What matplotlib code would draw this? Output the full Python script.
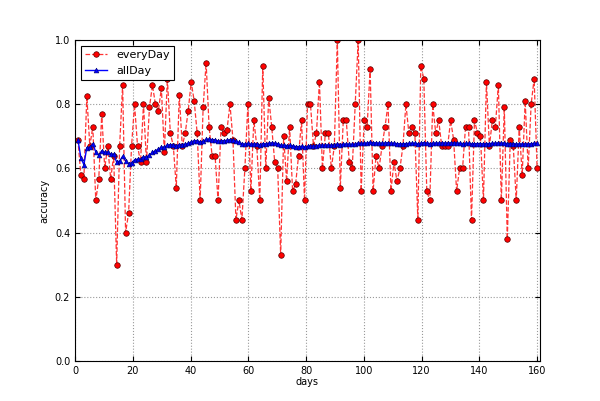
import numpy as np
import matplotlib
matplotlib.use("Agg")
import matplotlib.pyplot as plt

every_day = [0.69,0.578,0.567,0.825,0.67,0.73,0.5,0.567,0.77,0.6,0.67,0.567,0.64,0.3,0.67,0.86,0.4,0.46,
             0.67,0.8,0.67,0.62,0.8,0.62,0.79,0.86,0.8,0.78,0.85,0.65,0.88,0.71,0.67,0.54,0.83,0.67,0.71,
             0.78,0.87,0.81,0.71,0.5,0.79,0.93,0.73,0.64,0.64,
             0.5,0.73,0.71,0.72,0.8,0.69,0.44,0.5,0.44,0.6,0.8,0.53,0.75,0.67,0.5,0.92,0.6,0.82,0.73,0.62,
             0.6,0.33,0.7,0.56,0.73,0.53,0.55,0.64,0.75,0.5,0.8,0.8,0.67,0.71,0.87,0.6,0.71,0.71,0.6,0.67,
             1.0,0.54,0.75,0.75,0.62,0.6,0.8,1.0,0.53,0.75,0.73,0.91,0.53,0.64,
             0.6,0.67,0.73,0.8,0.53,0.62,0.56,0.6,0.67,0.8,0.71,0.73,0.71,0.44,0.92,0.88,0.53,0.5,0.8,
             0.71,0.75,0.67,0.67,0.67,0.75,0.69,0.53,0.6,0.6,0.73,0.73,0.44,0.75,0.71,0.7,0.5,0.87,0.67,
             0.75,0.73,0.86,0.5,0.79,0.38,0.69,0.67,0.5,0.73,0.58,0.81,0.6,0.8,0.88,0.6]
first_day, last_day = 1, 160
days = np.linspace(first_day, last_day, len(every_day))
all_day = np.cumsum(every_day) / np.arange(1, len(every_day) + 1)  # running overall accuracy

fig = plt.figure(figsize=(6, 4.01), dpi=100)
ax = fig.add_axes([0.125, 0.1, 0.775, 0.8])
ax.plot(days, every_day, '--', color='#ff3333', marker='o', markersize=4, markerfacecolor='red',
        markeredgecolor='#550000', markeredgewidth=0.5, linewidth=0.9, label='everyDay')
ax.plot(days, all_day, 'b-', marker='^', markersize=3.5, markeredgecolor='#000066',
        markeredgewidth=0.4, linewidth=1.0, label='allDay')
ax.set_xlim(0, 161)
ax.set_ylim(0, 1.0)
ax.set_xticks(range(0, 161, 20))
ax.set_yticks(np.arange(0, 1.01, 0.2))
ax.set_yticklabels(['0.0', '0.2', '0.4', '0.6', '0.8', '1.0'])
ax.tick_params(labelsize=7, direction='in', top=True, right=True)
ax.grid(True, linestyle=':', color='#999999', linewidth=0.8)
ax.set_xlabel('days', fontsize=7, labelpad=1)
ax.set_ylabel('accuracy', fontsize=7)
leg = ax.legend(loc='upper left', fontsize=8, fancybox=False, framealpha=1, edgecolor='black')
leg.get_frame().set_linewidth(0.8)
fig.savefig('out.png', dpi=100)
